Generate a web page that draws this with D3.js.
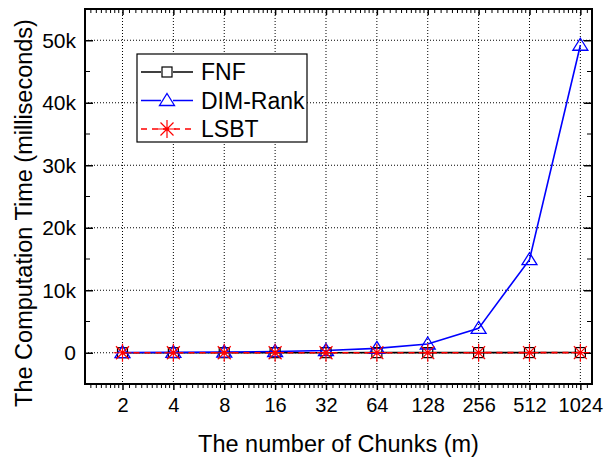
<!DOCTYPE html>
<html>
<head>
<meta charset="utf-8">
<script src="https://cdn.jsdelivr.net/npm/d3@7"></script>
<style>
body { margin: 0; background: #fff; }
svg { font-family: "Liberation Sans", Arial, sans-serif; }
</style>
</head>
<body>
<svg width="604" height="460"></svg>
<script>
var svg = d3.select('svg');

// chunk counts (m)
var chunks = [2, 4, 8, 16, 32, 64, 128, 256, 512, 1024];
// computation time in ms
var fnf = [5, 6, 8, 10, 12, 15, 18, 22, 26, 30];
var dimRank = [30, 60, 110, 200, 350, 700, 1400, 3900, 14900, 49200];
var lsbt = [2, 3, 4, 5, 6, 8, 10, 12, 14, 16];
var yTicks = [0, 10000, 20000, 30000, 40000, 50000];
var seriesNames = ['FNF', 'DIM-Rank', 'LSBT'];

// plot box (window.top is reserved, so use other names)
var pLeft = 85, pRight = 592, pTop = 9, pBottom = 384;

var x = d3.scaleLog().base(2).domain([1.2, 1200]).range([pLeft, pRight]);
var y = d3.scaleLinear().domain([-5000, 55000]).range([pBottom, pTop]);

// grid
svg.append('g').selectAll('line')
    .data(chunks)
    .enter()
    .append('line')
    .attr('x1', function(d){ return x(d); })
    .attr('x2', function(d){ return x(d); })
    .attr('y1', pTop)
    .attr('y2', pBottom)
    .attr('stroke', '#000')
    .attr('stroke-width', 1)
    .attr('stroke-dasharray', '1,2');

svg.append('g').selectAll('line')
    .data(yTicks)
    .enter()
    .append('line')
    .attr('x1', pLeft)
    .attr('x2', pRight)
    .attr('y1', function(d){ return y(d); })
    .attr('y2', function(d){ return y(d); })
    .attr('stroke', '#000')
    .attr('stroke-width', 1)
    .attr('stroke-dasharray', '1,2');

// minor tick values
var xMinor = [];
for (var k = 0; k <= 10; k++) {
    for (var j = 1; j <= 9; j++) {
        var v = Math.pow(2, k) * (1 + j / 10);
        if (v > 1.21 && v < 1200) xMinor.push(v);
    }
}
var yMinor = [-5000, 5000, 15000, 25000, 35000, 45000, 55000];

function fmtK(d) { return d === 0 ? '0' : (d / 1000) + 'k'; }

// axes
var xAxisB = svg.append('g')
    .attr('transform', 'translate(0,' + pBottom + ')')
    .call(d3.axisBottom(x).tickValues(chunks).tickFormat(d3.format('d')).tickSize(6).tickPadding(8));
var xAxisT = svg.append('g')
    .attr('transform', 'translate(0,' + pTop + ')')
    .call(d3.axisBottom(x).tickValues(chunks).tickFormat('').tickSize(6));
var yAxisL = svg.append('g')
    .attr('transform', 'translate(' + pLeft + ',0)')
    .call(d3.axisRight(y).tickValues(yTicks).tickFormat('').tickSize(8));
var yAxisR = svg.append('g')
    .attr('transform', 'translate(' + pRight + ',0)')
    .call(d3.axisLeft(y).tickValues(yTicks).tickFormat('').tickSize(8));

[xAxisB, xAxisT, yAxisL, yAxisR].forEach(function(a){
    a.select('.domain').remove();
    a.selectAll('line').attr('stroke', '#000').attr('stroke-width', 1.5);
});
xAxisB.selectAll('text').attr('font-size', 20).attr('font-family', '"Liberation Sans", Arial, sans-serif').attr('fill', '#000');

// y labels
svg.append('g').selectAll('text')
    .data(yTicks)
    .enter()
    .append('text')
    .attr('x', 76)
    .attr('y', function(d){ return y(d); })
    .attr('dy', '0.36em')
    .attr('text-anchor', 'end')
    .attr('font-size', 21)
    .text(fmtK);

// minor ticks
var minor = svg.append('g').attr('stroke', '#000').attr('stroke-width', 1);
xMinor.forEach(function(v){
    minor.append('line').attr('x1', x(v)).attr('x2', x(v)).attr('y1', pBottom).attr('y2', pBottom + 4);
    minor.append('line').attr('x1', x(v)).attr('x2', x(v)).attr('y1', pTop).attr('y2', pTop + 4);
});
yMinor.forEach(function(v){
    minor.append('line').attr('x1', pLeft).attr('x2', pLeft + 5).attr('y1', y(v)).attr('y2', y(v));
    minor.append('line').attr('x1', pRight - 5).attr('x2', pRight).attr('y1', y(v)).attr('y2', y(v));
});

// frame
svg.append('rect')
    .attr('x', pLeft).attr('y', pTop)
    .attr('width', pRight - pLeft).attr('height', pBottom - pTop)
    .attr('fill', 'none').attr('stroke', '#000').attr('stroke-width', 2);

// series
var series = [
    {name: seriesNames[0], values: fnf, color: '#000', dash: null, marker: 'square'},
    {name: seriesNames[1], values: dimRank, color: '#0000ff', dash: null, marker: 'triangle'},
    {name: seriesNames[2], values: lsbt, color: '#ff0000', dash: '6,5', marker: 'star'}
];

var line = d3.line()
    .x(function(d){ return x(d[0]); })
    .y(function(d){ return y(d[1]); });

function drawMarker(g, type, color) {
    if (type === 'square') {
        g.append('rect').attr('x', -5).attr('y', -5).attr('width', 10).attr('height', 10)
            .attr('fill', 'none').attr('stroke', color).attr('stroke-width', 1.2);
    } else if (type === 'triangle') {
        g.append('path').attr('d', 'M0,-7L7.5,5L-7.5,5Z')
            .attr('fill', 'none').attr('stroke', color).attr('stroke-width', 1.3);
    } else {
        g.append('path').attr('d', 'M-9,0L9,0M0,-9L0,9M-6.5,-6.5L6.5,6.5M-6.5,6.5L6.5,-6.5')
            .attr('fill', 'none').attr('stroke', color).attr('stroke-width', 1.2);
    }
}

series.forEach(function(s){
    var pts = chunks.map(function(c, i){ return [c, s.values[i]]; });
    svg.append('path')
        .datum(pts)
        .attr('d', line)
        .attr('fill', 'none')
        .attr('stroke', s.color)
        .attr('stroke-width', 1.6)
        .attr('stroke-dasharray', s.dash);
});
series.forEach(function(s){
    svg.append('g').selectAll('g')
        .data(chunks.map(function(c, i){ return [c, s.values[i]]; }))
        .enter()
        .append('g')
        .attr('transform', function(d){ return 'translate(' + x(d[0]) + ',' + y(d[1]) + ')'; })
        .each(function(){ drawMarker(d3.select(this), s.marker, s.color); });
});

// legend
var legend = svg.append('g');
legend.append('rect')
    .attr('x', 137).attr('y', 54).attr('width', 170).attr('height', 88)
    .attr('fill', '#fff').attr('stroke', '#000').attr('stroke-width', 1.2);
series.forEach(function(s, i){
    var ly = 72 + i * 28.5;
    legend.append('line')
        .attr('x1', 141).attr('x2', 193).attr('y1', ly).attr('y2', ly)
        .attr('stroke', s.color).attr('stroke-width', 1.6)
        .attr('stroke-dasharray', s.dash);
    var m = legend.append('g').attr('transform', 'translate(167,' + ly + ')');
    if (s.marker !== 'star') {
        m.append('rect').attr('x', -6).attr('y', -6).attr('width', 12).attr('height', 12).attr('fill', '#fff');
    }
    drawMarker(m, s.marker, s.color);
    legend.append('text')
        .attr('x', 201).attr('y', ly).attr('dy', '0.36em')
        .attr('font-size', 23)
        .text(s.name);
});

// axis titles
svg.append('text')
    .attr('x', (pLeft + pRight) / 2).attr('y', 452)
    .attr('text-anchor', 'middle')
    .attr('font-size', 23.5)
    .text('The number of Chunks (m)');

svg.append('text')
    .attr('transform', 'translate(32,213) rotate(-90)')
    .attr('text-anchor', 'middle')
    .attr('font-size', 23.5)
    .text('The Computation Time (milliseconds)');
</script>
</body>
</html>
